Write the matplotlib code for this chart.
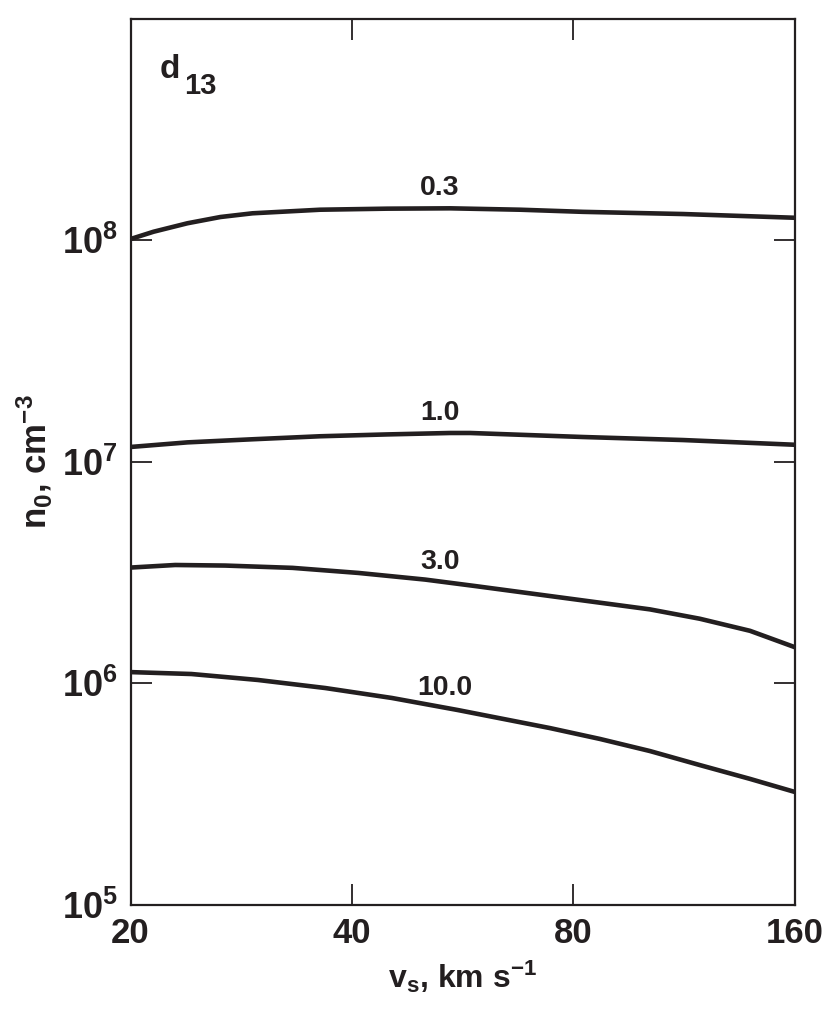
import matplotlib
matplotlib.use("Agg")
import matplotlib.pyplot as plt
from matplotlib.ticker import NullLocator, FixedLocator, FixedFormatter
from matplotlib import font_manager

# ---- data ----
v_03 = [20, 21.5, 23.9, 26.5, 29.3, 36.2, 44.6, 54.4, 67.7, 82.4, 112.7, 160]
n_03 = [1.01e8, 1.09e8, 1.19e8, 1.27e8, 1.32e8, 1.37e8, 1.385e8, 1.39e8, 1.37e8, 1.34e8, 1.31e8, 1.26e8]

v_10 = [20, 23.9, 29.3, 36.2, 44.6, 54.4, 57.9, 82.4, 112.7, 160]
n_10 = [1.163e7, 1.22e7, 1.26e7, 1.30e7, 1.325e7, 1.345e7, 1.345e7, 1.29e7, 1.25e7, 1.19e7]

v_30 = [20, 23.0, 26.9, 33.2, 40.8, 50.3, 58.8, 74.3, 101.6, 118.8, 139, 160]
n_30 = [3.32e6, 3.41e6, 3.39e6, 3.31e6, 3.14e6, 2.93e6, 2.74e6, 2.47e6, 2.15e6, 1.95e6, 1.72e6, 1.45e6]

v_100 = [20, 24.2, 29.8, 36.8, 45.3, 55.7, 74.3, 86.9, 101.6, 118.8, 139, 160]
n_100 = [1.12e6, 1.098e6, 1.032e6, 9.49e5, 8.56e5, 7.55e5, 6.26e5, 5.59e5, 4.93e5, 4.26e5, 3.69e5, 3.22e5]

curve_labels = ["0.3", "1.0", "3.0", "10.0"]
label_x = [52.7, 52.7, 52.7, 53.5]
label_y = [1.72e8, 1.66e7, 3.52e6, 9.5e5]

x_ticks = [20, 40, 80, 160]
x_ticklabels = ["20", "40", "80", "160"]
y_ticks = [1e5, 1e6, 1e7, 1e8]
y_ticklabels = [r"$10^{5}$", r"$10^{6}$", r"$10^{7}$", r"$10^{8}$"]

INK = "#231f20"

names = {f.name for f in font_manager.fontManager.ttflist}
NARROW = "Liberation Sans Narrow" if "Liberation Sans Narrow" in names else "Liberation Sans"

plt.rcParams["font.family"] = ["Liberation Sans", "DejaVu Sans"]
plt.rcParams["font.weight"] = "bold"
plt.rcParams["mathtext.fontset"] = "custom"
plt.rcParams["mathtext.rm"] = "Liberation Sans:bold"
plt.rcParams["mathtext.it"] = "Liberation Sans:bold"
plt.rcParams["mathtext.bf"] = "Liberation Sans:bold"
plt.rcParams["mathtext.sf"] = "Liberation Sans:bold"
plt.rcParams["mathtext.default"] = "bf"

fig = plt.figure(figsize=(8.31, 10.15), dpi=100)
ax = fig.add_axes([130.5 / 831, 1 - 904.5 / 1015, (795 - 130.5) / 831, (904.5 - 18.5) / 1015])

ax.set_xscale("log")
ax.set_yscale("log")

for vx, series in ((v_03, n_03), (v_10, n_10), (v_30, n_30), (v_100, n_100)):
    ax.plot(vx, series, color=INK, lw=3.3, solid_capstyle="butt", solid_joinstyle="round")

for lab, lx, ly in zip(curve_labels, label_x, label_y):
    ax.text(lx, ly, lab, ha="center", va="center", fontsize=20.5, fontweight="bold", color=INK)

# panel label d13 (large subscript as in the reference)
ax.text(0.044, 0.9424, "d", transform=ax.transAxes, fontsize=24,
        fontweight="bold", color=INK, ha="left", va="center")
ax.text(0.081, 0.924, "13", transform=ax.transAxes, fontsize=21,
        fontweight="bold", color=INK, ha="left", va="center")

ax.set_xlim(20, 160)
ax.set_ylim(1e5, 1e9)

ax.xaxis.set_major_locator(FixedLocator(x_ticks))
ax.xaxis.set_major_formatter(FixedFormatter(x_ticklabels))
ax.xaxis.set_minor_locator(NullLocator())
ax.yaxis.set_major_locator(FixedLocator(y_ticks))
ax.yaxis.set_major_formatter(FixedFormatter(y_ticklabels))
ax.yaxis.set_minor_locator(NullLocator())

ax.tick_params(axis="both", which="major", direction="in", length=15, width=1.3,
               color=INK, top=True, right=True, labelcolor=INK)
ax.tick_params(axis="x", labelsize=25, pad=9)
ax.tick_params(axis="y", labelsize=26, pad=9)
for t in ax.get_xticklabels():
    t.set_family([NARROW, "Liberation Sans"])
    t.set_fontweight("bold")

for sp in ax.spines.values():
    sp.set_linewidth(1.6)
    sp.set_color(INK)

ax.set_xlabel(r"v$_{\mathrm{s}}$, km s$^{-1}$", fontsize=23, fontweight="bold", color=INK, labelpad=6)
ax.set_ylabel(r"n$_{0}$, cm$^{-3}$", fontsize=25, fontweight="bold", color=INK, labelpad=6)

fig.savefig("out.png", dpi=100)
